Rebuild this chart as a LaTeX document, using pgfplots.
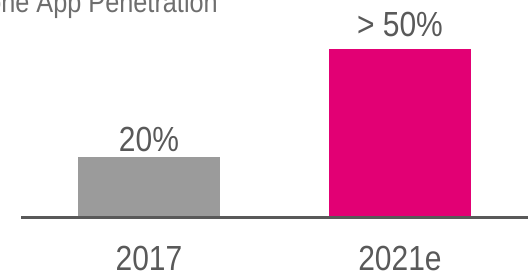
\documentclass[border=0pt]{standalone}
\usepackage{pgfplots}
\pgfplotsset{compat=1.18}
\usepackage{fontspec}
\setmainfont{Liberation Sans}[FakeStretch=0.86]
\definecolor{txt}{HTML}{595959}
\definecolor{ttl}{HTML}{6E6E6E}
\definecolor{magenta}{HTML}{E20074}
\definecolor{bargray}{HTML}{9B9B9B}
\begin{document}
\begin{tikzpicture}
\path[use as bounding box] (-21bp,-59bp) rectangle (507bp,217bp);
\clip (-21bp,-59bp) rectangle (507bp,217bp);
\begin{axis}[
  at={(0,0)}, anchor=south west,
  scale only axis,
  width=507bp, height=217bp,
  xmin=-0.51, xmax=1.51,
  ymin=0, ymax=72.33,
  axis lines=none,
  ybar, bar width=142bp, bar shift=0pt,
  clip=false,
]
\addplot[fill=bargray, draw=none,
  nodes near coords={20\%},
  every node near coord/.style={anchor=base, yshift=5bp, font=\fontsize{35}{40}\selectfont, text=txt}]
  coordinates {(0,20)};
\addplot[fill=magenta, draw=none,
  nodes near coords={> 50\%},
  every node near coord/.style={anchor=base, yshift=12bp, font=\fontsize{35}{40}\selectfont, text=txt}]
  coordinates {(1,56)};
\draw[txt, line width=3bp] (axis cs:-0.51,0) -- (axis cs:1.51,0);
\node[anchor=base, text=txt, font=\fontsize{35}{40}\selectfont] at ([yshift=-53bp]axis cs:0,0) {2017};
\node[anchor=base, text=txt, font=\fontsize{35}{40}\selectfont] at ([yshift=-53bp]axis cs:1,0) {2021e};
\end{axis}
\node[anchor=base east, text=ttl, font=\fontsize{29.5}{33}\selectfont, inner sep=0pt] at (197bp,204.5bp) {Smartphone App Penetration};
\end{tikzpicture}
\end{document}
